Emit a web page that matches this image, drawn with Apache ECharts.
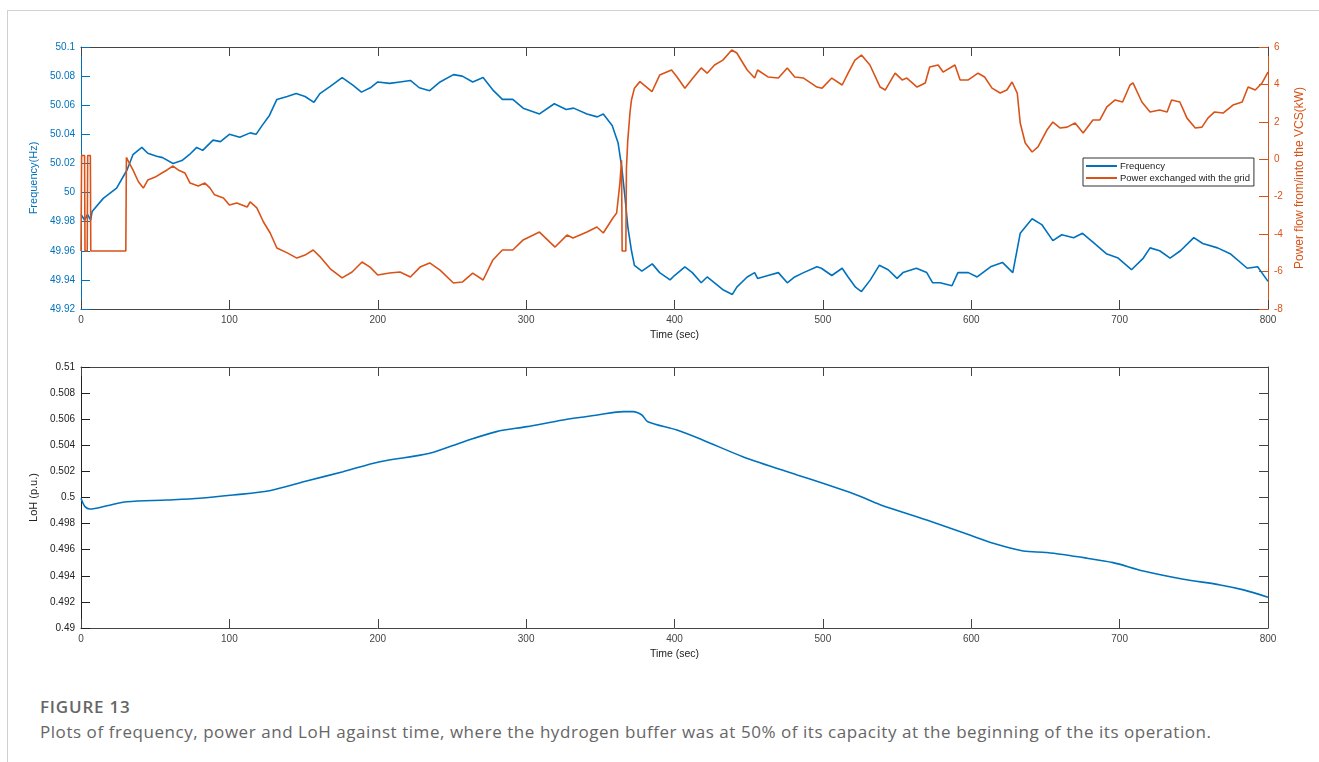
<!DOCTYPE html>
<html>
<head>
<meta charset="utf-8">
<script src="https://cdn.jsdelivr.net/npm/echarts@6/dist/echarts.min.js"></script>
<style>
  html, body { margin: 0; padding: 0; background: #fff; }
  #frame { position: absolute; left: 7px; top: 10px; width: 1312px; height: 752px;
           border-left: 1px solid #d0d0d0; border-top: 1px solid #d0d0d0; }
  #chart { position: absolute; left: 0; top: 0; width: 1319px; height: 670px; }
  #figno { position: absolute; left: 40px; top: 695px; line-height: 17px; letter-spacing: 0.8px;
           font: 600 17px "Open Sans", sans-serif; color: #666; }
  #caption { position: absolute; left: 40px; top: 720px; line-height: 17px; letter-spacing: 0.55px;
             font: 17px "Open Sans", sans-serif; color: #666; white-space: nowrap; }
</style>
</head>
<body>
<div id="frame"></div>
<div id="chart"></div>
<div id="figno">FIGURE 13</div>
<div id="caption">Plots of frequency, power and LoH against time, where the hydrogen buffer was at 50% of its capacity at the beginning of the its operation.</div>
<script>
// [time (sec), value]
var freqData = [
	[0, 49.985], [2.5, 49.981], [4.4, 49.985], [6.5, 49.981], [7.5, 49.987], [15, 49.996], [24, 50.003], [31, 50.0155],
	[35, 50.026], [41, 50.031], [45, 50.027], [51, 50.025], [55, 50.024], [62, 50.020], [68, 50.022], [73, 50.026],
	[78, 50.031], [82, 50.029], [89, 50.036], [94, 50.035], [100, 50.040], [107, 50.038], [114, 50.041], [118, 50.040],
	[122, 50.046], [127, 50.053], [132, 50.064], [139, 50.066], [145, 50.068], [151, 50.066], [157, 50.062], [161, 50.068],
	[168, 50.073], [176, 50.079], [183, 50.074], [189, 50.069], [195, 50.072], [200, 50.076], [208, 50.075], [215, 50.076],
	[222, 50.077], [228, 50.072], [235, 50.070], [242, 50.076], [251, 50.081], [257, 50.080], [264, 50.076], [271, 50.079],
	[278, 50.070], [284, 50.064], [291, 50.064], [298, 50.058], [309, 50.054], [319, 50.061], [327, 50.057], [332, 50.058],
	[341, 50.054], [348, 50.052], [352, 50.054], [358, 50.046], [362, 50.034], [364.5, 50.017], [366.6, 49.997], [368.6, 49.976],
	[371, 49.960], [373, 49.950], [378, 49.946], [385, 49.951], [390, 49.945], [397, 49.940], [400, 49.943], [407, 49.949],
	[412, 49.945], [418, 49.938], [422, 49.942], [427, 49.938], [433, 49.933], [439, 49.930], [442, 49.935], [449, 49.942],
	[454, 49.945], [456, 49.941], [463, 49.943], [470, 49.945], [476, 49.938], [481, 49.942], [487, 49.945], [496, 49.949],
	[499, 49.948], [506, 49.943], [513, 49.948], [517, 49.942], [522, 49.935], [526, 49.932], [532, 49.940], [538, 49.950],
	[544, 49.947], [550, 49.941], [554, 49.945], [563, 49.948], [570, 49.945], [574, 49.938], [579, 49.938], [587, 49.936],
	[591, 49.945], [598, 49.945], [604, 49.942], [613, 49.949], [621, 49.952], [628, 49.945], [633, 49.972], [641, 49.982],
	[647.5, 49.978], [655, 49.967], [661, 49.971], [669, 49.969], [675, 49.972], [682, 49.966], [691, 49.958], [699, 49.955],
	[708, 49.947], [716, 49.955], [720.5, 49.962], [727, 49.960], [734, 49.955], [741, 49.960], [750, 49.969], [756, 49.965],
	[766, 49.962], [774.5, 49.958], [786, 49.948], [793, 49.949], [800, 49.939]
];

var powerData = [
	[0, -4.9], [0.4, 0.2], [2.4, 0.2], [2.7, -4.9], [4.2, -4.9], [4.5, 0.2], [6.3, 0.2], [6.6, -4.9],
	[30.2, -4.9], [30.6, 0.1], [31.5, -0.05], [35, -0.57], [38.7, -1.2], [42, -1.54], [45, -1.11], [50, -0.95],
	[54.5, -0.73], [58, -0.57], [62, -0.36], [65.5, -0.57], [70, -0.73], [73.5, -1.27], [79, -1.43], [83.5, -1.27],
	[87, -1.54], [90, -1.9], [96, -2.07], [100, -2.44], [105, -2.34], [112, -2.55], [114, -2.28], [118.5, -2.6],
	[123, -3.35], [127.5, -3.94], [132, -4.74], [139, -5.0], [145.5, -5.28], [151, -5.12], [156.5, -4.85], [161, -5.2],
	[168, -5.85], [176, -6.34], [182.7, -6.02], [189.4, -5.49], [194.8, -5.76], [200, -6.18], [208, -6.08], [215, -6.02],
	[222, -6.29], [228.5, -5.76], [235, -5.54], [242, -5.92], [251, -6.61], [257, -6.56], [264, -6.08], [271, -6.45],
	[277.6, -5.38], [284, -4.85], [291, -4.85], [298, -4.31], [309, -3.89], [319.5, -4.69], [327.5, -4.05], [331.6, -4.21],
	[341, -3.89], [347.7, -3.62], [352, -3.94], [358.5, -3.14], [361, -2.87], [363.2, -1.27], [364.3, -0.05], [364.7, -4.9],
	[367.2, -4.9], [367.6, -0.5], [368.5, 1.0], [370, 2.5], [371, 3.17], [373, 3.8], [376.7, 4.15], [384.8, 3.61],
	[390, 4.5], [398, 4.77], [401.6, 4.41], [407, 3.8], [412.4, 4.34], [418, 4.88], [422, 4.6], [427, 5.04],
	[432.6, 5.3], [438.6, 5.84], [442, 5.68], [449, 4.77], [454, 4.34], [456, 4.77], [463, 4.4], [470, 4.34],
	[476, 4.88], [481, 4.4], [487, 4.34], [496, 3.86], [499.5, 3.8], [506, 4.34], [513, 3.97], [517, 4.6],
	[521.6, 5.3], [526, 5.57], [531.7, 5.04], [538.6, 3.86], [542, 3.7], [548.7, 4.6], [553.4, 4.24], [556.6, 4.34],
	[563.5, 3.86], [569, 4.08], [572, 4.93], [577.7, 5.04], [581, 4.66], [589, 5.04], [592.5, 4.24], [598, 4.24],
	[604.6, 4.6], [609, 4.4], [614, 3.8], [619.5, 3.54], [624, 3.7], [627.5, 4.13], [631, 3.54], [633, 1.94],
	[636.4, 0.87], [641, 0.39], [645, 0.66], [651, 1.56], [655, 1.99], [660, 1.67], [664.6, 1.72], [670, 1.94],
	[675.4, 1.4], [682, 2.1], [686.7, 2.1], [691.4, 2.8], [697, 3.17], [702, 3.06], [707, 3.97], [709, 4.08],
	[715, 3.06], [720.5, 2.53], [727, 2.63], [732, 2.53], [735, 3.17], [740.6, 3.06], [745.4, 2.2], [751, 1.67],
	[755.5, 1.72], [759.5, 2.2], [764, 2.53], [769.7, 2.47], [776.4, 2.9], [782.6, 3.06], [786.6, 3.86], [791.4, 3.7],
	[796, 4.08], [800, 4.66]
];

var lohData = [
	[0, 0.49994], [2.7, 0.4993], [6, 0.49912], [17.5, 0.49937], [31, 0.49968], [58, 0.49981], [80, 0.49994],
	[102.5, 0.50019], [127, 0.50052], [152, 0.50126], [176.6, 0.50198], [201.5, 0.50274], [235, 0.50339], [258, 0.50428],
	[280, 0.50505], [300.6, 0.50543], [325, 0.50594], [348, 0.50632], [365.6, 0.50658], [372, 0.50658], [378, 0.50632],
	[382, 0.50581], [401.6, 0.50517], [419, 0.50441], [446, 0.50313], [482.6, 0.50173], [500, 0.50109], [518, 0.5004],
	[525, 0.5001], [538.6, 0.49945], [570, 0.49828], [599, 0.49713], [614.8, 0.49649], [635, 0.4959], [651, 0.49578],
	[678, 0.49535], [695.6, 0.49501], [716, 0.49437], [743, 0.49374], [767.8, 0.4933], [783.5, 0.49292], [800, 0.49236]
];

var seriesNames = ['Frequency', 'Power exchanged with the grid'];

var blue = '#0072BD';
var orange = '#D95319';
var dark = '#444';
var font = '"Liberation Sans", Arial, sans-serif';

// MATLAB style box axes, ticks pointing inwards
function xAx(grid, pos, showName) {
	return {
		type: 'value', gridIndex: grid, position: pos, min: 0, max: 800, interval: 100,
		axisLine: { onZero: false, lineStyle: { color: dark, width: 1 } },
		axisTick: { inside: true, length: 9, lineStyle: { color: dark } },
		axisLabel: { show: pos == 'bottom', fontSize: 10, color: dark, margin: 6, fontFamily: font },
		splitLine: { show: false },
		name: showName ? 'Time (sec)' : '', nameLocation: 'middle', nameGap: 21,
		nameTextStyle: { fontSize: 10.5, color: '#222', fontFamily: font }
	};
}

function yAx(grid, pos, min, max, step, color, name, nameGap, nameSize, digits, showLabel) {
	return {
		type: 'value', gridIndex: grid, position: pos, min: min, max: max, interval: step,
		axisLine: { show: true, onZero: false, lineStyle: { color: color, width: 1 } },
		axisTick: { show: true, inside: true, length: 9, lineStyle: { color: color } },
		axisLabel: {
			show: showLabel, fontSize: 10, color: color, margin: 6, fontFamily: font,
			formatter: function(v) { return String(parseFloat(v.toFixed(digits))); }
		},
		splitLine: { show: false },
		name: name, nameLocation: 'middle', nameGap: nameGap,
		nameTextStyle: { fontSize: nameSize, color: color, fontFamily: font }
	};
}

var chart = echarts.init(document.getElementById('chart'));

var option = {
	animation: false,
	textStyle: { fontFamily: font },
	grid: [
		{ left: 81, top: 47, width: 1187, height: 262 },
		{ left: 81, top: 367, width: 1187, height: 261 }
	],
	legend: {
		data: seriesNames,
		orient: 'vertical',
		left: 1083, top: 158,
		backgroundColor: '#fff',
		borderColor: '#333', borderWidth: 1, borderRadius: 0,
		padding: [3, 4, 3, 3],
		itemGap: 2, itemWidth: 31, itemHeight: 2,
		icon: 'rect',
		textStyle: { fontSize: 9.5, color: '#222', fontFamily: font, padding: [0, 0, 0, -2] }
	},
	xAxis: [
		xAx(0, 'bottom', true),
		xAx(0, 'top', false),
		xAx(1, 'bottom', true),
		xAx(1, 'top', false)
	],
	yAxis: [
		yAx(0, 'left', 49.92, 50.1, 0.02, blue, 'Frequency(Hz)', 31, 11, 2, true),
		yAx(0, 'right', -8, 6, 2, orange, 'Power flow from/into the VCS(kW)', 18, 12, 0, true),
		yAx(1, 'left', 0.49, 0.51, 0.002, '#222', 'LoH (p.u.)', 32, 11, 3, true),
		yAx(1, 'right', 0.49, 0.51, 0.002, dark, '', 0, 11, 3, false)
	],
	series: [
		{
			name: seriesNames[0], type: 'line', xAxisIndex: 0, yAxisIndex: 0,
			data: freqData, showSymbol: false, color: blue,
			lineStyle: { color: blue, width: 1.6 }
		},
		{
			name: seriesNames[1], type: 'line', xAxisIndex: 0, yAxisIndex: 1,
			data: powerData, showSymbol: false, color: orange,
			lineStyle: { color: orange, width: 1.6 }
		},
		{
			name: 'LoH', type: 'line', xAxisIndex: 2, yAxisIndex: 2,
			data: lohData, showSymbol: false, smooth: 0.3, color: blue,
			lineStyle: { color: blue, width: 1.6 }
		}
	]
};

chart.setOption(option);
</script>
</body>
</html>
